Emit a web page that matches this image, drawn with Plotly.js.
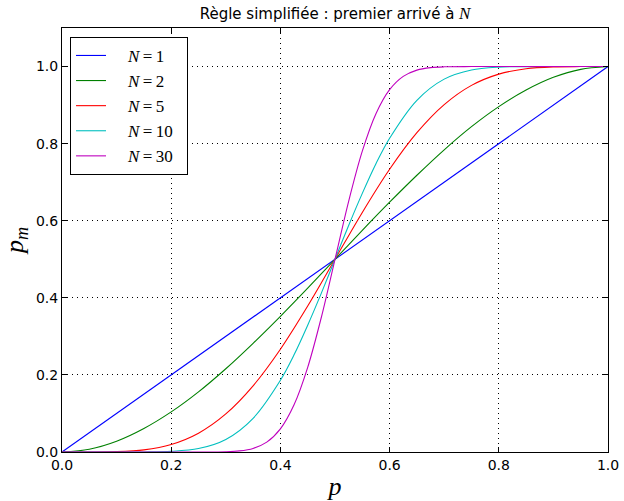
<!DOCTYPE html>
<html>
<head>
<meta charset="utf-8">
<script src="https://cdn.plot.ly/plotly-3.0.1.min.js"></script>
<style>body{margin:0;padding:0;background:#fff;} #chart{width:624px;height:501px;}</style>
</head>
<body>
<div id="chart"></div>
<script>
// Data
const pN1 = [0, 1];
const vN1 = [0, 1];

const pN2 = [0,0.05,0.1,0.15,0.2,0.25,0.3,0.35,0.4,0.45,0.5,0.55,0.6,0.65,0.7,0.75,0.8,0.85,0.9,0.95,1];
const vN2 = [0,0.0073,0.028,0.061,0.104,0.156,0.216,0.282,0.352,0.425,0.5,0.575,0.648,0.718,0.784,0.844,0.896,0.939,0.972,0.9927,1];

const pN5 = [0,0.05,0.1,0.15,0.2,0.25,0.3,0.35,0.4,0.45,0.5,0.55,0.6,0.65,0.7,0.75,0.8,0.85,0.9,0.95,1];
const vN5 = [0,0.00003,0.0009,0.0056,0.0196,0.0489,0.0988,0.1717,0.2666,0.3786,0.5,0.6214,0.7334,0.8283,0.9012,0.9511,0.9804,0.9944,0.9991,0.99997,1];

const pN10 = [0,0.1,0.15,0.2,0.25,0.3,0.35,0.4,0.425,0.45,0.475,0.5,0.525,0.55,0.575,0.6,0.65,0.7,0.75,0.8,0.85,0.9,1];
const vN10 = [0,0.000004,0.00014,0.0016,0.0089,0.0326,0.0875,0.1861,0.2521,0.329,0.4122,0.5,0.5878,0.671,0.7479,0.8139,0.9125,0.9674,0.9911,0.9984,0.99986,0.999996,1];

const pN30 = [0,0.25,0.3,0.325,0.35,0.375,0.4,0.425,0.45,0.475,0.5,0.525,0.55,0.575,0.6,0.625,0.65,0.675,0.7,0.75,1];
const vN30 = [0,0.000005,0.0007,0.0028,0.0093,0.0255,0.06,0.1224,0.2196,0.3496,0.5,0.6504,0.7804,0.8776,0.94,0.9745,0.9907,0.9972,0.9993,0.999995,1];

const nLabels = ['1','2','5','10','30'];
const seriesNames = nLabels.map(n => '\u2002\u2002<i>N</i>\u2009=\u2009' + n + '\u2002');
const colors = ['#0000ff','#008000','#ff0000','#00bfbf','#bf00bf'];
const xs = [pN1,pN2,pN5,pN10,pN30];
const ys = [vN1,vN2,vN5,vN10,vN30];

const xTicks = [0,0.2,0.4,0.6,0.8,1.0];
const yTicks = [0,0.2,0.4,0.6,0.8,1.0];

const traces = xs.map((x,i)=>({
  x: x, y: ys[i], type:'scatter', mode:'lines', name: seriesNames[i],
  line:{color:colors[i], width:1.1, shape: i===0 ? 'linear' : 'spline', smoothing:0.9}
}));

const axisCommon = {
  showline:true, linecolor:'#000', linewidth:1, mirror:'ticks',
  ticks:'inside', ticklen:5, tickcolor:'#000', tickwidth:1,
  showgrid:true, gridcolor:'#000', griddash:'1px,4px', gridwidth:1,
  zeroline:false, tickformat:'.1f',
  tickfont:{family:'DejaVu Sans', size:14, color:'#000'}
};

const layout = {
  width:624, height:501,
  margin:{l:62, r:16, t:28, b:49},
  paper_bgcolor:'#fff', plot_bgcolor:'#fff',
  showlegend:true,
  title:{text:'Règle simplifiée : premier arrivé à <span style="font-family:Liberation Serif;font-style:italic;font-size:17px">N</span>',
    font:{family:'DejaVu Sans', size:15, color:'#000'},
    x:0.537, xanchor:'center', y:0.972, yanchor:'middle', yref:'container'},
  xaxis: Object.assign({}, axisCommon, {
    range:[0,1], tickvals:xTicks,
    title:{text:'<i>p</i>', font:{family:'Liberation Serif', size:26, color:'#000'}, standoff:8}
  }),
  yaxis: Object.assign({}, axisCommon, {
    range:[0,1.1], tickvals:yTicks,
    title:{text:'<i>p</i><sub><i>m</i></sub>', font:{family:'Liberation Serif', size:26, color:'#000'}, standoff:10}
  }),
  legend:{
    x:0.0147, y:0.979, xanchor:'left', yanchor:'top',
    bgcolor:'#fff', bordercolor:'#000', borderwidth:1,
    font:{family:'Liberation Serif', size:17, color:'#000'},
    tracegroupgap:0
  }
};

Plotly.newPlot('chart', traces, layout, {displayModeBar:false, staticPlot:true});
</script>
</body>
</html>
